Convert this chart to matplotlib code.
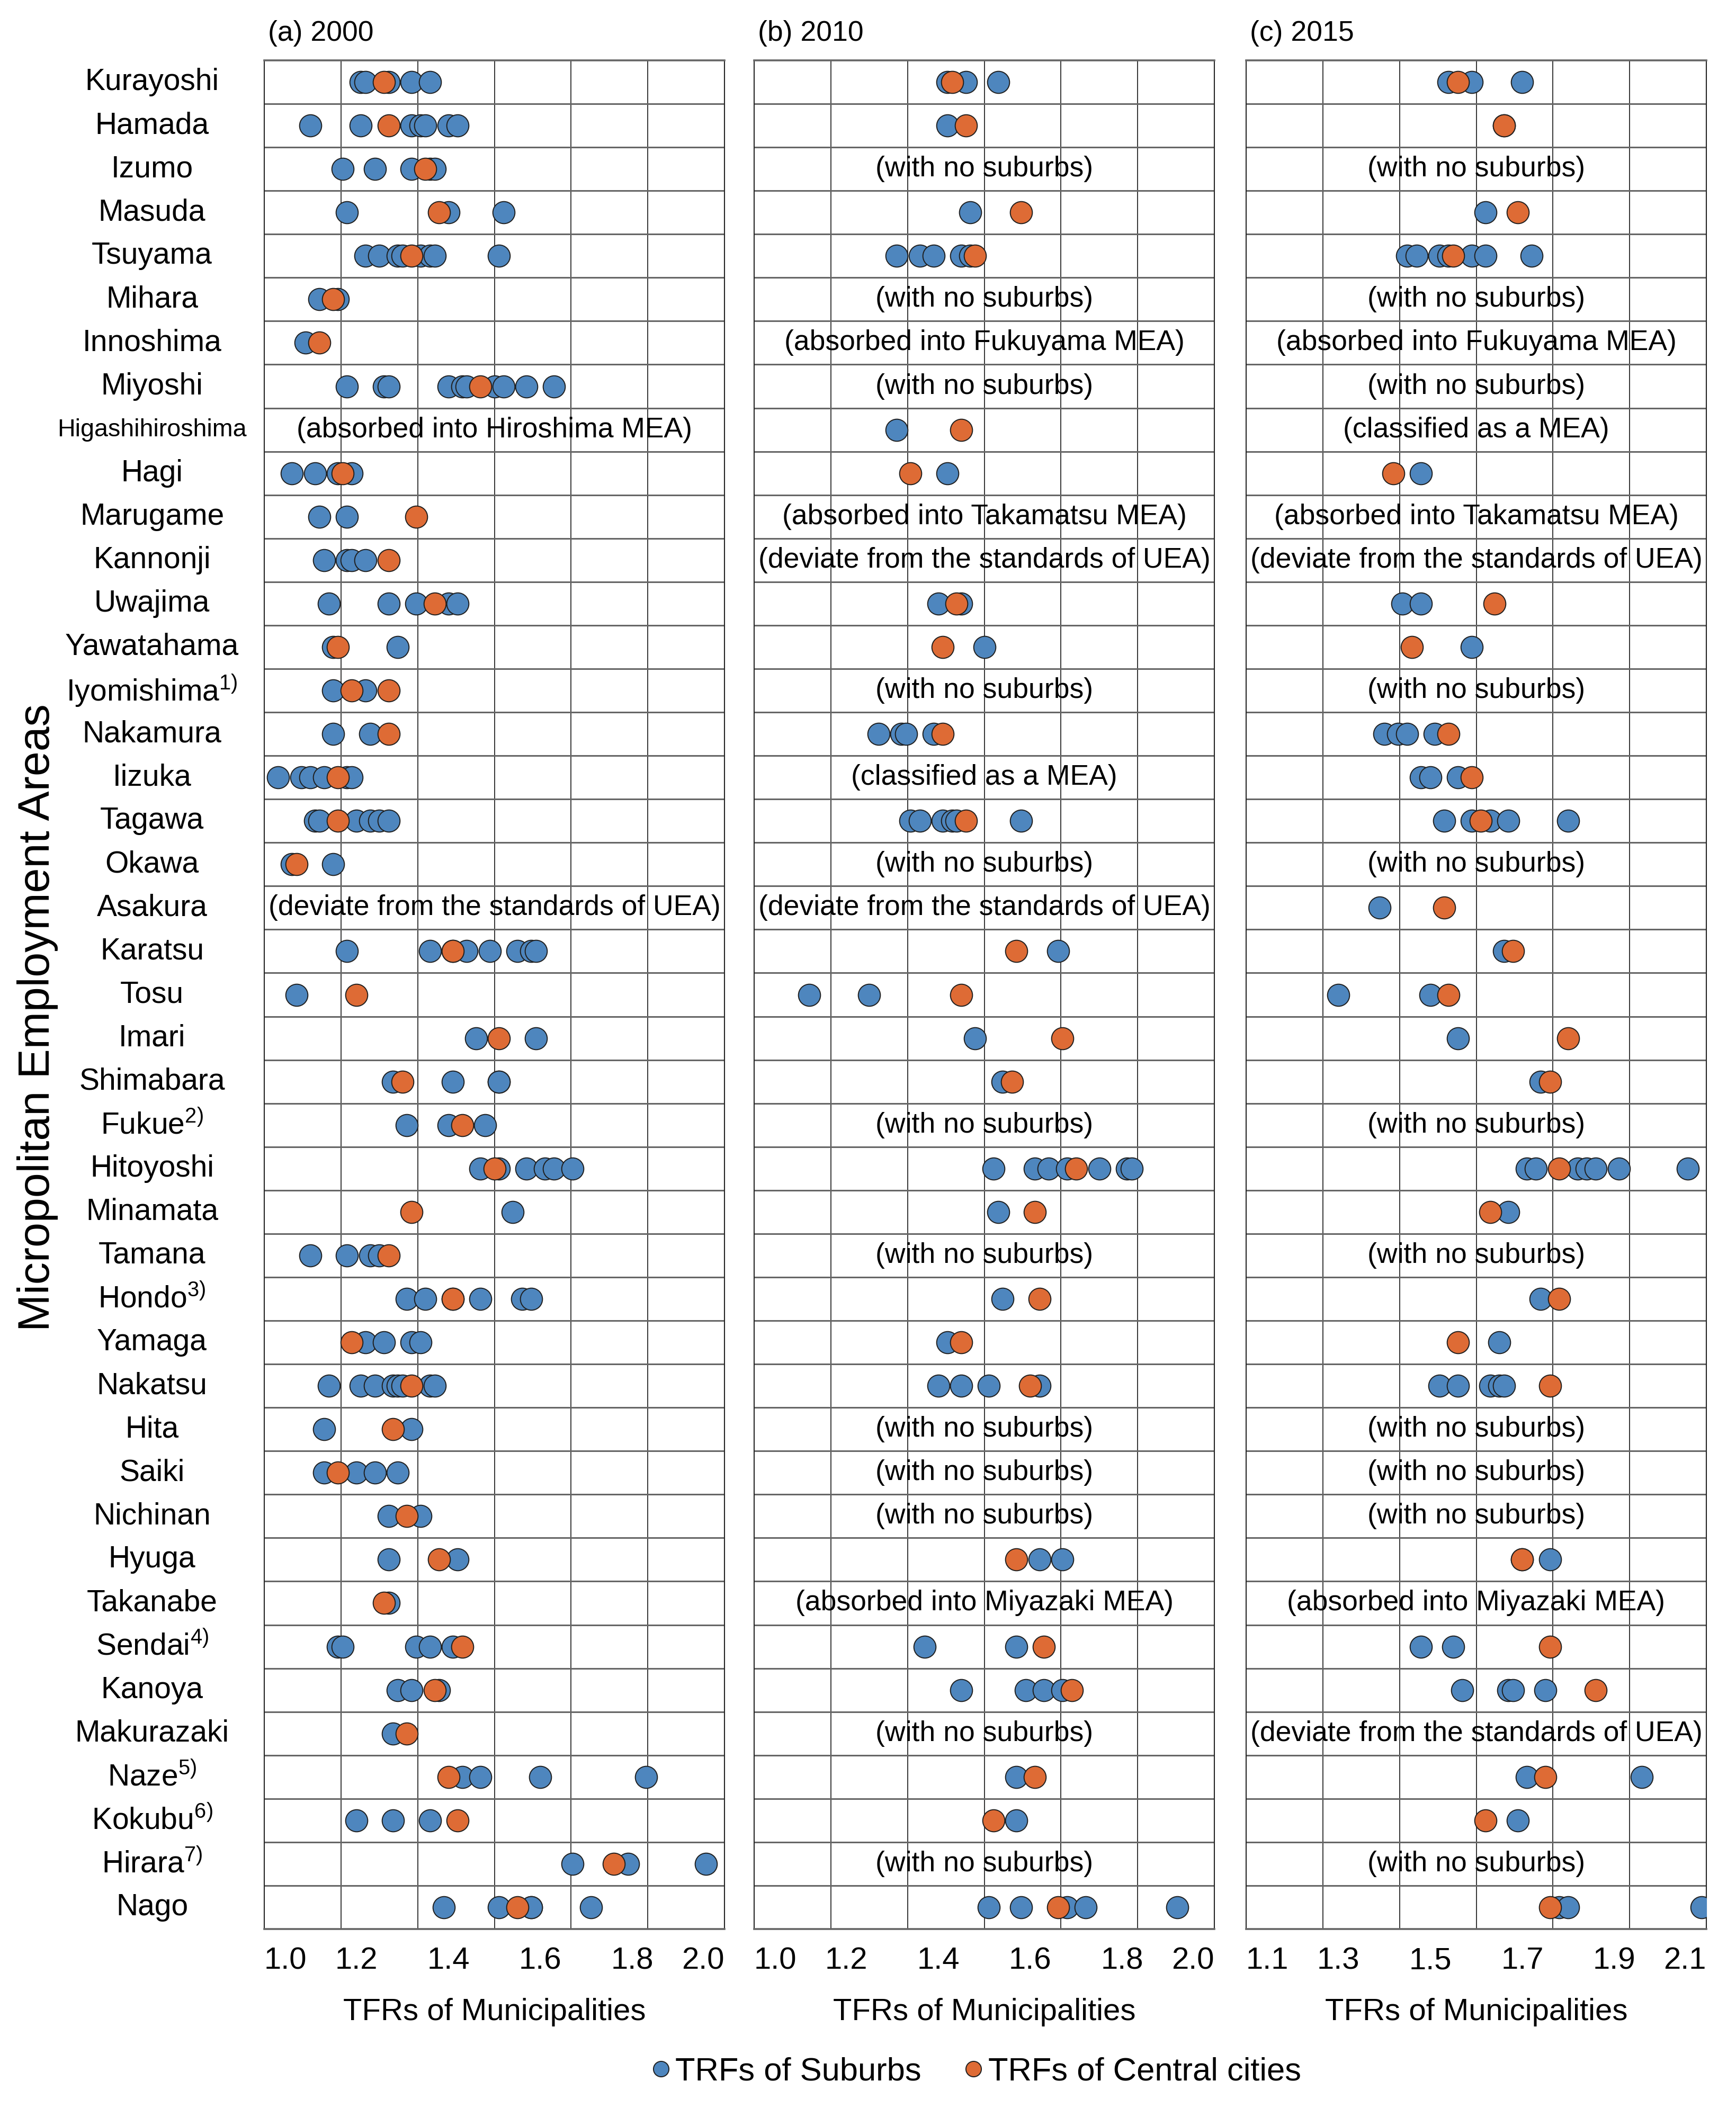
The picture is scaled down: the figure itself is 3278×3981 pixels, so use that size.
import matplotlib
matplotlib.use('Agg')
import matplotlib.pyplot as plt
import numpy as np
from matplotlib import font_manager
from matplotlib.lines import Line2D

# --- data -----------------------------------------------------------------
areas = ['Kurayoshi', 'Hamada', 'Izumo', 'Masuda', 'Tsuyama', 'Mihara', 'Innoshima',
         'Miyoshi', 'Higashihiroshima', 'Hagi', 'Marugame', 'Kannonji', 'Uwajima',
         'Yawatahama', 'Iyomishima$^{1)}$', 'Nakamura', 'Iizuka', 'Tagawa', 'Okawa',
         'Asakura', 'Karatsu', 'Tosu', 'Imari', 'Shimabara', 'Fukue$^{2)}$', 'Hitoyoshi',
         'Minamata', 'Tamana', 'Hondo$^{3)}$', 'Yamaga', 'Nakatsu', 'Hita', 'Saiki',
         'Nichinan', 'Hyuga', 'Takanabe', 'Sendai$^{4)}$', 'Kanoya', 'Makurazaki',
         'Naze$^{5)}$', 'Kokubu$^{6)}$', 'Hirara$^{7)}$', 'Nago']

NS = '(with no suburbs)'
DEV = '(deviate from the standards of UEA)'
CLS = '(classified as a MEA)'
FUK = '(absorbed into Fukuyama MEA)'
TAK = '(absorbed into Takamatsu MEA)'
MIY = '(absorbed into Miyazaki MEA)'
HIR = '(absorbed into Hiroshima MEA)'

# (a) 2000
sub_2000 = [
    [1.21, 1.22, 1.27, 1.32, 1.36], [1.10, 1.21, 1.32, 1.34, 1.35, 1.40, 1.42],
    [1.17, 1.24, 1.32, 1.36, 1.37], [1.18, 1.40, 1.52],
    [1.22, 1.25, 1.29, 1.30, 1.34, 1.36, 1.37, 1.51], [1.12, 1.16], [1.09],
    [1.18, 1.26, 1.27, 1.40, 1.43, 1.44, 1.50, 1.52, 1.57, 1.63], [],
    [1.06, 1.11, 1.16, 1.19], [1.12, 1.18], [1.13, 1.18, 1.19, 1.22],
    [1.14, 1.27, 1.33, 1.40, 1.42], [1.15, 1.29], [1.15, 1.22], [1.15, 1.23],
    [1.03, 1.08, 1.10, 1.13, 1.18, 1.19], [1.11, 1.12, 1.20, 1.23, 1.25, 1.27],
    [1.06, 1.15], [], [1.18, 1.36, 1.41, 1.44, 1.49, 1.55, 1.58, 1.59], [1.07],
    [1.46, 1.59], [1.28, 1.41, 1.51, 1.51], [1.31, 1.40, 1.48],
    [1.47, 1.51, 1.57, 1.61, 1.63, 1.67], [1.54], [1.10, 1.18, 1.23, 1.25],
    [1.31, 1.35, 1.41, 1.47, 1.56, 1.58], [1.22, 1.26, 1.32, 1.34],
    [1.14, 1.21, 1.24, 1.28, 1.29, 1.30, 1.36, 1.37], [1.13, 1.32],
    [1.13, 1.20, 1.24, 1.29], [1.27, 1.34], [1.27, 1.42], [1.27],
    [1.16, 1.17, 1.33, 1.36, 1.41], [1.29, 1.32, 1.38], [1.28],
    [1.43, 1.47, 1.60, 1.83], [1.20, 1.28, 1.36], [1.67, 1.79, 1.96],
    [1.39, 1.51, 1.58, 1.58, 1.71]]
cen_2000 = [
    [1.26], [1.27], [1.35], [1.38], [1.32], [1.15], [1.12], [1.47], [], [1.17],
    [1.33], [1.27], [1.37], [1.16], [1.19, 1.27], [1.27], [1.16], [1.16], [1.07], [],
    [1.41], [1.20], [1.51], [1.30], [1.43], [1.50], [1.32], [1.27], [1.41], [1.19],
    [1.32], [1.28], [1.16], [1.31], [1.38], [1.26], [1.43], [1.37], [1.31], [1.40],
    [1.42], [1.76], [1.55]]
note_2000 = {8: HIR, 19: DEV}

# (b) 2010
sub_2010 = [
    [1.42, 1.46, 1.53], [1.42], [], [1.47], [1.31, 1.36, 1.39, 1.45, 1.47], [], [], [],
    [1.31], [1.42], [], [], [1.40, 1.45], [1.50], [], [1.27, 1.32, 1.33, 1.39], [],
    [1.34, 1.36, 1.41, 1.43, 1.44, 1.58], [], [], [1.66], [1.12, 1.25], [1.48], [1.54],
    [], [1.52, 1.61, 1.64, 1.68, 1.75, 1.81, 1.82], [1.53], [], [1.54], [1.42],
    [1.40, 1.45, 1.51, 1.62], [], [], [], [1.62, 1.67], [], [1.37, 1.57],
    [1.45, 1.59, 1.63, 1.67], [], [1.57], [1.57], [], [1.51, 1.58, 1.68, 1.72, 1.92]]
cen_2010 = [
    [1.43], [1.46], [], [1.58], [1.48], [], [], [], [1.45], [1.34], [], [], [1.44],
    [1.41], [], [1.41], [], [1.46], [], [], [1.57], [1.45], [1.67], [1.56], [], [1.70],
    [1.61], [], [1.62], [1.45], [1.60], [], [], [], [1.57], [], [1.63], [1.69], [],
    [1.61], [1.52], [], [1.66]]
note_2010 = {2: NS, 5: NS, 6: FUK, 7: NS, 10: TAK, 11: DEV, 14: NS, 16: CLS, 18: NS,
             19: DEV, 24: NS, 27: NS, 31: NS, 32: NS, 33: NS, 35: MIY, 38: NS, 41: NS}

# (c) 2015
sub_2015 = [
    [1.54, 1.59, 1.70], [1.66], [], [1.62], [1.45, 1.47, 1.52, 1.54, 1.59, 1.62, 1.72],
    [], [], [], [], [1.48], [], [], [1.44, 1.48], [1.59], [], [1.40, 1.43, 1.45, 1.51],
    [1.48, 1.50, 1.56], [1.53, 1.59, 1.63, 1.67, 1.80], [], [1.39], [1.66], [1.30, 1.50],
    [1.56], [1.74], [], [1.71, 1.73, 1.82, 1.84, 1.86, 1.91, 2.06], [1.67], [], [1.74],
    [1.65], [1.52, 1.56, 1.63, 1.65, 1.66], [], [], [], [1.70, 1.76], [], [1.48, 1.55],
    [1.57, 1.67, 1.68, 1.75], [], [1.71, 1.96], [1.69], [], [1.78, 1.80, 2.09]]
cen_2015 = [
    [1.56], [1.66], [], [1.69], [1.55], [], [], [], [], [1.42], [], [], [1.64], [1.46],
    [], [1.54], [1.59], [1.61], [], [1.53], [1.68], [1.54], [1.80], [1.76], [], [1.78],
    [1.63], [], [1.78], [1.56], [1.76], [], [], [], [1.70], [], [1.76], [1.86], [],
    [1.75], [1.62], [], [1.76]]
note_2015 = {2: NS, 5: NS, 6: FUK, 7: NS, 8: CLS, 10: TAK, 11: DEV, 14: NS, 18: NS,
             24: NS, 27: NS, 31: NS, 32: NS, 33: NS, 35: MIY, 38: DEV, 41: NS}

panels = [('(a) 2000', 1.0, sub_2000, cen_2000, note_2000),
          ('(b) 2010', 1.0, sub_2010, cen_2010, note_2010),
          ('(c) 2015', 1.1, sub_2015, cen_2015, note_2015)]

# --- style ----------------------------------------------------------------
names = {f.name for f in font_manager.fontManager.ttflist}
if 'Liberation Sans Narrow' in names:
    family, k = 'Liberation Sans Narrow', 1.0
else:
    family, k = 'Liberation Sans', 0.82
plt.rcParams['font.family'] = [family, 'DejaVu Sans']
plt.rcParams['mathtext.default'] = 'regular'

BLUE = '#4E86BE'
ORANGE = '#DE6B35'
EDGE = '#1f1f1f'
HLINE = '#666666'
VLINE = '#262626'

W, H = 3278, 3981
top_px, bot_px = 114, 3643
lefts = [499, 1424, 2353]
width_px = 869
n = len(areas)

fig = plt.figure(figsize=(W / 100, H / 100), dpi=100)
axes = []
for (title, lo, subs, cens, notes), lpx in zip(panels, lefts):
    ax = fig.add_axes([lpx / W, 1 - bot_px / H, width_px / W, (bot_px - top_px) / H])
    axes.append(ax)
    ax.set_xlim(lo, lo + 1.0)
    ax.set_ylim(n, 0)
    ticks = np.round(np.arange(lo, lo + 1.001, 0.2), 1)
    ax.set_xticks(ticks)
    ax.set_xticklabels(['%.1f' % t for t in ticks])
    ax.set_yticks([])
    ax.tick_params(axis='x', length=0, pad=24, labelsize=51 * k)
    # end labels pulled inside the frame, as in the original layout
    ax.get_xticklabels()[0].set_ha('left')
    ax.get_xticklabels()[-1].set_ha('right')

    for xv in np.linspace(lo, lo + 1.0, 7)[1:-1]:
        ax.axvline(xv, color=VLINE, lw=1.3, zorder=1)
    for yv in range(1, n):
        ax.axhline(yv, color=HLINE, lw=2.2, zorder=1)
    for side in ['left', 'right']:
        ax.spines[side].set_color(VLINE)
        ax.spines[side].set_linewidth(1.5)
    for side in ['top', 'bottom']:
        ax.spines[side].set_color(HLINE)
        ax.spines[side].set_linewidth(2.6)

    xs, ys = [], []
    for i, vals in enumerate(subs):
        xs += vals
        ys += [i + 0.5] * len(vals)
    ax.scatter(xs, ys, s=900, color=BLUE, edgecolors=EDGE, linewidths=1.4, zorder=3)
    xs, ys = [], []
    for i, vals in enumerate(cens):
        xs += vals
        ys += [i + 0.5] * len(vals)
    ax.scatter(xs, ys, s=900, color=ORANGE, edgecolors=EDGE, linewidths=1.4, zorder=4)

    for i, txt in notes.items():
        ax.text(lo + 0.5, i + 0.5, txt, ha='center', va='center', fontsize=47 * k, zorder=5)

    ax.text(0.008, 1.0 + 51 / (bot_px - top_px), title, transform=ax.transAxes,
            ha='left', va='center', fontsize=47 * k)
    ax.text(0.5, -(3800 - bot_px) / (bot_px - top_px), 'TFRs of Municipalities',
            transform=ax.transAxes, ha='center', va='center', fontsize=51 * k)

# row labels
ax_a = axes[0]
for i, name in enumerate(areas):
    fs = 41 * k if name == 'Higashihiroshima' else 50 * k
    ax_a.text((287 - lefts[0]) / width_px, i + 0.5, name, transform=ax_a.get_yaxis_transform(),
              ha='center', va='center', fontsize=fs)

fig.text(71 / W, 1 - 1922 / H, 'Micropolitan Employment Areas', rotation=90,
         ha='center', va='center', fontsize=74 * k)

handles = [Line2D([], [], ls='', marker='o', markersize=21, markerfacecolor=BLUE,
                  markeredgecolor=EDGE, markeredgewidth=1.4),
           Line2D([], [], ls='', marker='o', markersize=21, markerfacecolor=ORANGE,
                  markeredgecolor=EDGE, markeredgewidth=1.4)]
fig.legend(handles, ['TRFs of Suburbs', 'TRFs of Central cities'], loc='center',
           bbox_to_anchor=(1840 / W, 1 - 3913 / H), ncol=2, frameon=False,
           fontsize=54 * k, handletextpad=0.05, columnspacing=1.2, handlelength=0.8)

fig.savefig('out.png', dpi=100)
